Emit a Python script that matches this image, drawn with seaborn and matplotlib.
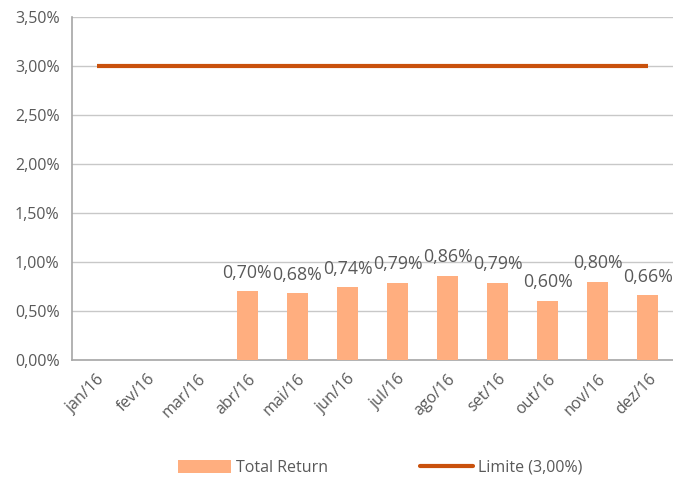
import numpy as np
import pandas as pd
import matplotlib
matplotlib.use("Agg")
import matplotlib.pyplot as plt
import seaborn as sns
from matplotlib.ticker import FuncFormatter
from matplotlib.patches import Patch
from matplotlib.lines import Line2D

months = ["jan/16", "fev/16", "mar/16", "abr/16", "mai/16", "jun/16",
          "jul/16", "ago/16", "set/16", "out/16", "nov/16", "dez/16"]
total_return = [np.nan, np.nan, np.nan, 0.70, 0.68, 0.74, 0.79, 0.86, 0.79, 0.60, 0.80, 0.66]
limite = [3.00] * 12

bar_color = "#FFAE7F"
line_color = "#C9510C"
text_color = "#595959"
grid_color = "#C8C8C8"
axis_color = "#A6A6A6"

sns.set_theme(style="white")
plt.rcParams["font.family"] = ["Open Sans", "DejaVu Sans"]

df = pd.DataFrame({"mes": months, "ret": total_return, "lim": limite})

fig = plt.figure(figsize=(6.73, 4.79), dpi=100)
ax = fig.add_axes([0.107, 0.2484, 0.893, 0.7161])

sns.barplot(data=df, x="mes", y="ret", color=bar_color, width=0.42,
            saturation=1, linewidth=0, ax=ax, zorder=3)
ax.plot(np.arange(len(months)), df["lim"], color=line_color, lw=3,
        solid_capstyle="butt", zorder=4)

for i, v in enumerate(total_return):
    if not np.isnan(v):
        ax.text(i, v + 0.1, f"{v:.2f}%".replace(".", ","), ha="center",
                va="bottom", fontsize=12.8, color=text_color, zorder=5)

ax.set_xlim(-0.5, len(months) - 0.5)
ax.set_ylim(0, 3.5)
ax.set_yticks(np.arange(0, 3.51, 0.5))
ax.yaxis.set_major_formatter(FuncFormatter(lambda y, _: f"{y:.2f}%".replace(".", ",")))
ax.grid(axis="y", color=grid_color, lw=1, zorder=0)
ax.set_xlabel("")
ax.set_ylabel("")

for s in ["top", "right"]:
    ax.spines[s].set_visible(False)
for s in ["left", "bottom"]:
    ax.spines[s].set_color(axis_color)
    ax.spines[s].set_linewidth(1.2)

ax.set_xticks(np.arange(len(months)))
ax.set_xticklabels(months, rotation=45, ha="right", rotation_mode="anchor",
                   fontsize=11.5, color=text_color)
ax.tick_params(axis="x", length=0, pad=8)
ax.set_xticks(np.arange(-0.5, len(months), 1.0), minor=True)
ax.tick_params(axis="x", which="minor", length=5, color=axis_color, width=1.2)
ax.tick_params(axis="y", length=5, color=grid_color, labelsize=11.5,
               labelcolor=text_color, pad=4)

handles = [Patch(facecolor=bar_color, edgecolor="none"),
           Line2D([0], [0], color=line_color, lw=3)]
fig.legend(handles, ["Total Return", "Limite (3,00%)"], loc="center",
           bbox_to_anchor=(0.565, 0.023), ncol=2, frameon=False,
           fontsize=11.5, labelcolor=text_color, columnspacing=5.8,
           handlelength=3.3, handleheight=0.8, handletextpad=0.3)

fig.savefig("out.png", dpi=100)
